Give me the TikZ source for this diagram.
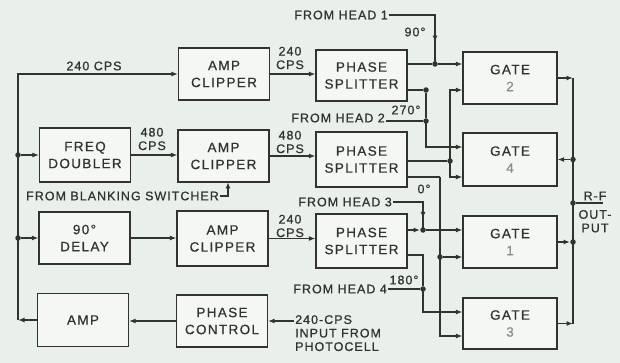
\documentclass[tikz,border=0pt]{standalone}
\usepackage{fontspec}
\setmainfont{Liberation Sans}[LetterSpace=8,FakeBold=0.8]
\newfontfamily\boxfont{Liberation Sans}[LetterSpace=10,FakeBold=0.6]
\usetikzlibrary{arrows.meta,decorations.markings}
\definecolor{bg}{RGB}{233,239,235}
\definecolor{boxfill}{RGB}{245,247,244}
\definecolor{ink}{RGB}{50,52,44}
\definecolor{faint}{RGB}{140,142,134}
\begin{document}
\begin{tikzpicture}[x=1pt,y=-1pt,
  blk/.style={draw=ink, fill=boxfill, line width=1.2pt, minimum width=91pt, minimum height=52pt,
    inner sep=0pt, align=center, text=ink, font=\boxfont\fontsize{13.5}{17}\selectfont},
  gate/.style={blk, minimum width=94pt},
  lbl/.style={text=ink, inner sep=1pt, font=\fontsize{12.5}{13.5}\selectfont},
  wire/.style={draw=ink, line width=1.3pt},
  arr/.style={wire, -{Latex[length=6.5pt,width=5pt]}},
  dot/.style={circle, fill=ink, inner sep=0pt, minimum size=5.5pt},
  midarrow/.style={wire, postaction={decorate},
    decoration={markings, mark=at position #1 with {\arrow{Latex[length=6.5pt,width=5pt]}}}}]
\useasboundingbox (0,0) rectangle (620,363);
\fill[bg] (0,0) rectangle (620,363);

% boxes
\node[blk] (ac1) at (224,74) {AMP\\CLIPPER};
\node[blk, minimum height=51pt] (ps1) at (361.5,75.5) {PHASE\\SPLITTER};
\node[gate] (g2) at (510,78) {GATE\\\textcolor{faint}{2}};
\node[blk, minimum height=54pt] (fd) at (85,155) {FREQ\\DOUBLER};
\node[blk] (ac2) at (223.5,156) {AMP\\CLIPPER};
\node[blk, minimum height=55pt] (ps2) at (361.5,159.5) {PHASE\\SPLITTER};
\node[gate, minimum height=53pt] (g4) at (510,159.5) {GATE\\\textcolor{faint}{4}};
\node[blk] (dl) at (84.5,238) {90°\\DELAY};
\node[blk, minimum height=55pt] (ac3) at (222.5,238.5) {AMP\\CLIPPER};
\node[blk, minimum height=54pt] (ps3) at (361.5,241) {PHASE\\SPLITTER};
\node[gate] (g1) at (510,242) {GATE\\\textcolor{faint}{1}};
\node[blk, minimum height=53pt] (amp) at (83,320) {AMP};
\node[blk] (pc) at (222,321) {PHASE\\CONTROL};
\node[gate, minimum height=51pt] (g3) at (510,323.5) {GATE\\\textcolor{faint}{3}};

% left bus
\coordinate (bt) at (18,74);
\draw[arr] (amp.west) -- (amp.west -| bt);
\draw[arr] (amp.west -| bt) -- (bt) -- (ac1.west);
\node[dot] (dfd) at (fd.west -| bt) {};
\node[dot] (ddl) at (dl.west -| bt) {};
\draw[arr] (dfd) -- (fd.west);
\draw[arr] (ddl) -- (dl.west);
\node[lbl] (l240a) at (94,66) {240 CPS};

\draw[arr] (fd.east) -- (fd.east -| ac2.west);
\node[lbl, align=center] (l480a) at (152,139) {480\\CPS};
\draw[arr] (dl.east) -- (dl.east -| ac3.west);
\draw[arr] (pc.west) -- (pc.west -| amp.east);

% photocell input
\node[lbl, align=left, anchor=north west] (photo) at (294,314) {240-CPS\\INPUT FROM\\PHOTOCELL};
\draw[arr] (photo.west |- pc.east) -- (pc.east);

% blanking switcher
\node[lbl, anchor=west] (blank) at (25,196) {FROM BLANKING SWITCHER};
\coordinate (bk) at (228,182);
\draw[arr] (blank.east) -| (bk);

% clipper -> splitter
\draw[arr] (ac1.east) -- (ac1.east -| ps1.west);
\draw[arr] (ac2.east) -- (ac2.east -| ps2.west);
\draw[arr] (ac3.east) -- (ac3.east -| ps3.west);
\node[lbl, align=center] (l240b) at (290,58) {240\\CPS};
\node[lbl, align=center] (l480b) at (290,142) {480\\CPS};
\node[lbl, align=center] (l240c) at (290,226) {240\\CPS};

% splitter 1
\node[dot] (j1) at (435,64) {};
\draw[wire] (ps1.east |- j1) -- (j1);
\draw[arr] (j1) -- (j1 -| g2.west);
\node[lbl, anchor=east] (h1) at (389,15) {FROM HEAD 1};
\draw[midarrow=0.77] (h1.east) -| (j1.center);
\node[lbl] (a90) at (415,32) {90°};

\node[dot] (c2) at (426,90) {};
\node[dot] (j2) at (426,121) {};
\draw[wire] (ps1.east |- c2) -- (c2) -- (j2);
\draw[arr] (j2.center) |- ([yshift=12.5pt]g4.west);
\node[lbl, anchor=east] (h2) at (386,118) {FROM HEAD 2};
\draw[wire] (h2.east |- j2) -- (j2);
\node[lbl] (a270) at (406,110) {270°};

% splitter 2
\node[dot] (j4) at (450,161) {};
\draw[wire] (ps2.east |- j4) -- (j4);
\draw[arr] (j4.center) |- ([yshift=-12pt]g2.west);
\draw[arr] (j4.center) |- ([yshift=-17.5pt]g4.west);
\coordinate (c5) at (440,177);
\draw[wire] (ps2.east |- c5) -- (c5);
\node[dot] (j7) at (440,257) {};
\draw[arr] (c5) |- ([yshift=-12.5pt]g3.west);
\draw[arr] (j7) -- (j7 -| g1.west);

% splitter 3
\node[dot] (j5) at (423,230) {};
\draw[arr] (ps3.east |- j5) -- (j5);
\draw[arr] (j5) -- (j5 -| g1.west);
\node[lbl, anchor=east] (h3) at (393,202) {FROM HEAD 3};
\draw[midarrow=0.8] (h3.east) -| (j5.center);
\node[lbl] (a0) at (424,189) {0°};

\coordinate (c6) at (423,255);
\node[dot] (j6) at (423,289) {};
\draw[wire] (ps3.east |- c6) -- (c6) -- (j6);
\draw[arr] (j6.center) |- ([yshift=11.5pt]g3.west);
\node[lbl, anchor=east] (h4) at (388,289) {FROM HEAD 4};
\draw[wire] (h4.east |- j6) -- (j6);
\node[lbl] (a180) at (404,280) {180°};

% output bus
\coordinate (rx) at (573,0);
\draw[arr] (g2.east) -- (g2.east -| rx);
\draw[wire] (g2.east -| rx) -- (g3.east -| rx);
\draw[arr] (g3.east) -- (g3.east -| rx);
\node[dot] (o1) at (g1.east -| rx) {};
\draw[arr] (g1.east) -- (o1);
\node[dot] (o4) at (g4.east -| rx) {};
\draw[arr] (o4) -- (g4.east);
\node[dot] (rf) at (573,203) {};
\coordinate (rfe) at (603,203);
\draw[wire] (rf) -- (rfe);
\node[lbl, align=center] (rft) at (595,212) {R-F\\[5pt]OUT-\\PUT};
\end{tikzpicture}
\end{document}
